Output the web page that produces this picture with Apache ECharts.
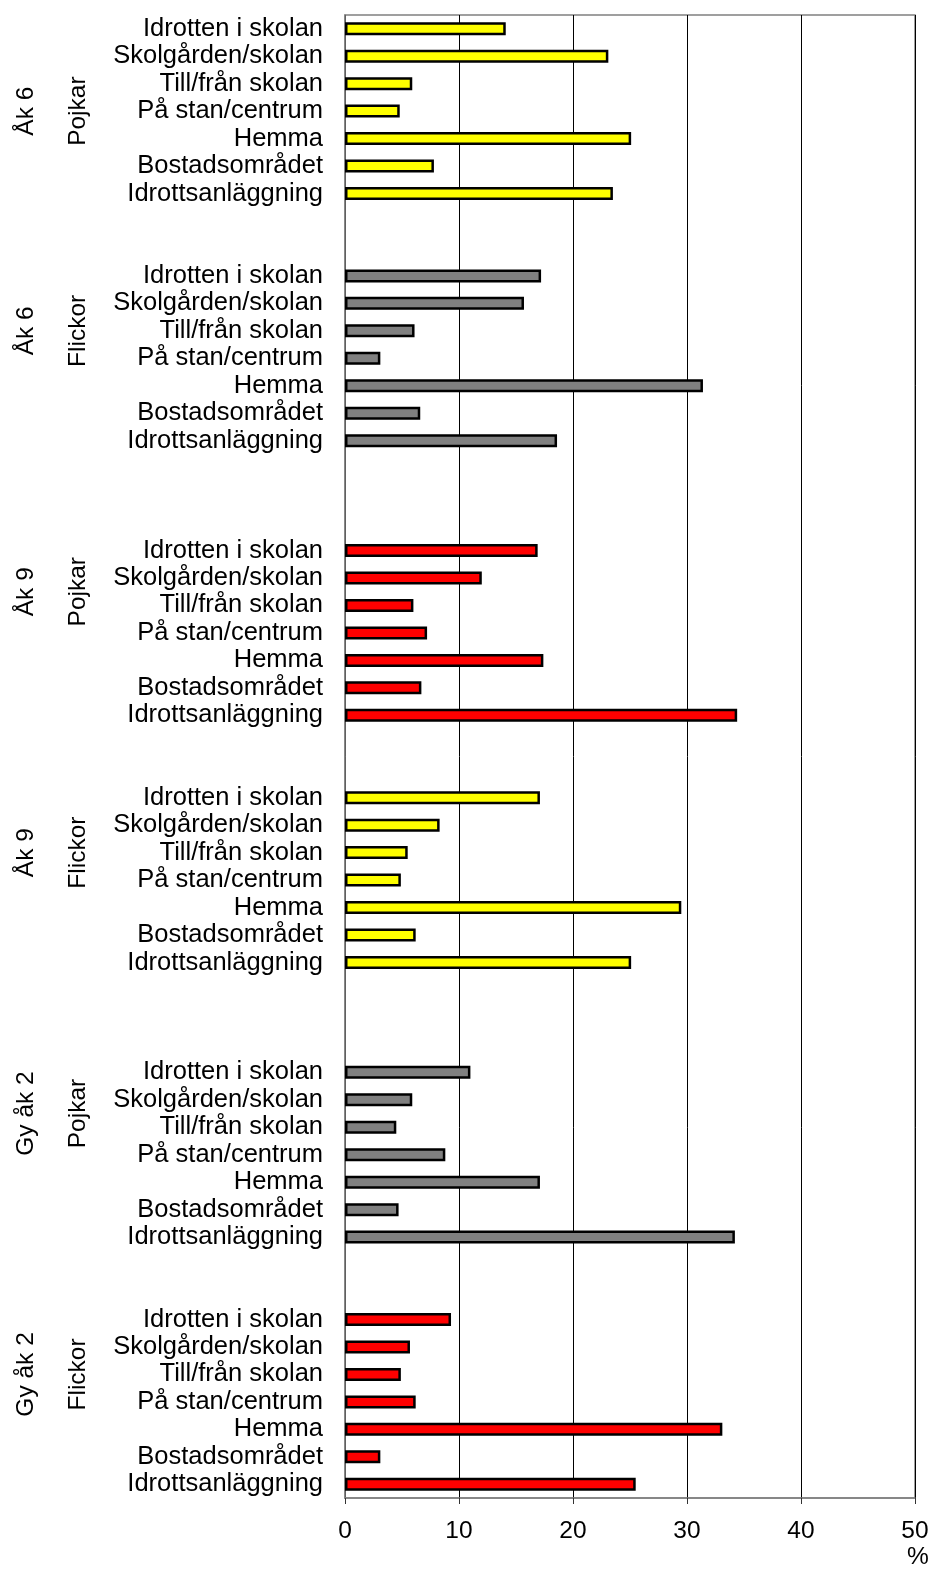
<!DOCTYPE html>
<html>
<head>
<meta charset="utf-8">
<script src="https://cdn.jsdelivr.net/npm/echarts@6/dist/echarts.min.js"></script>
<style>
html,body{margin:0;padding:0;background:#fff;}
#chart{width:933px;height:1569px;}
</style>
</head>
<body>
<div id="chart"></div>
<script>
// Category labels (places)
const places = ['Idrotten i skolan','Skolgården/skolan','Till/från skolan','På stan/centrum','Hemma','Bostadsområdet','Idrottsanläggning'];
// Group labels
const grades = ['Åk 6','Åk 6','Åk 9','Åk 9','Gy åk 2','Gy åk 2'];
const genders = ['Pojkar','Flickor','Pojkar','Flickor','Pojkar','Flickor'];
// Number of empty category slots before each group
const blanksBefore = [0,2,3,2,3,2];
// Values (%)
const ak6Pojkar  = [14.1,23.1,5.9,4.8,25.1,7.8,23.5];
const ak6Flickor = [17.2,15.7,6.1,3.1,31.4,6.6,18.6];
const ak9Pojkar  = [16.9,12.0,6.0,7.2,17.4,6.7,34.4];
const ak9Flickor = [17.1,8.3,5.5,4.9,29.5,6.2,25.1];
const gy2Pojkar  = [11.0,5.9,4.5,8.8,17.1,4.7,34.2];
const gy2Flickor = [9.3,5.7,4.9,6.2,33.1,3.1,25.5];
const groupValues = [ak6Pojkar, ak6Flickor, ak9Pojkar, ak9Flickor, gy2Pojkar, gy2Flickor];
const groupColors = ['#FFFF00','#808080','#FF0000','#FFFF00','#808080','#FF0000'];
const xTicks = [0,10,20,30,40,50];

const FONT = 'Liberation Sans, Arial, sans-serif';
const FS = 25.5;

// build category axis & data
const cats = [];
const data = [];
const spans = [];
groupValues.forEach((vals, g) => {
  const start = cats.length;
  for (let i = 0; i < blanksBefore[g]; i++) { cats.push(''); data.push('-'); }
  vals.forEach((v, i) => {
    cats.push(places[i]);
    data.push({ value: v, itemStyle: { color: groupColors[g] } });
  });
  spans.push([start, cats.length - 1]);
});

const chart = echarts.init(document.getElementById('chart'), null, { renderer: 'canvas' });
chart.setOption({
  animation: false,
  backgroundColor: '#fff',
  grid: {
    left: 345, right: 18, top: 15, bottom: 71,
    containLabel: false, outerBoundsMode: 'none',
    show: true, borderColor: '#808080', borderWidth: 1.5, backgroundColor: 'transparent'
  },
  xAxis: {
    type: 'value', min: 0, max: 50, interval: 10,
    axisLine: { show: true, lineStyle: { color: '#808080', width: 1.5 } },
    axisTick: { show: true, length: 6, lineStyle: { color: '#333' } },
    splitLine: { show: true, lineStyle: { color: '#000', width: 1 } },
    axisLabel: { color: '#000', fontFamily: FONT, fontSize: 24.5, margin: 21,
      customValues: xTicks }
  },
  yAxis: {
    type: 'category', inverse: true, data: cats,
    axisLine: { show: true, lineStyle: { color: '#808080', width: 1.5 } },
    axisTick: { show: false },
    splitLine: { show: false },
    axisLabel: { interval: 0, color: '#000', fontFamily: FONT, fontSize: FS, margin: 22,
      padding: [10, 0, 0, 0] }
  },
  series: [{
    type: 'bar', data: data, barWidth: 13,
    itemStyle: { borderColor: '#000', borderWidth: 2.5 }
  }]
});

// group labels placed from the category axis positions
const graphics = [];
spans.forEach((sp, g) => {
  const y0 = chart.convertToPixel({ yAxisIndex: 0 }, sp[0]);
  const y1 = chart.convertToPixel({ yAxisIndex: 0 }, sp[1]);
  const yc = (y0 + y1) / 2;
  graphics.push({ type: 'text', x: 26, y: yc, rotation: Math.PI / 2,
    style: { text: grades[g], font: '24.5px ' + FONT, fill: '#000', align: 'center', verticalAlign: 'middle' } });
  graphics.push({ type: 'text', x: 78, y: yc, rotation: Math.PI / 2,
    style: { text: genders[g], font: '24.5px ' + FONT, fill: '#000', align: 'center', verticalAlign: 'middle' } });
});
graphics.push({ type: 'text', x: 918, y: 1557,
  style: { text: '%', font: '24.5px ' + FONT, fill: '#000', align: 'center', verticalAlign: 'middle' } });
chart.setOption({ graphic: graphics });
</script>
</body>
</html>
